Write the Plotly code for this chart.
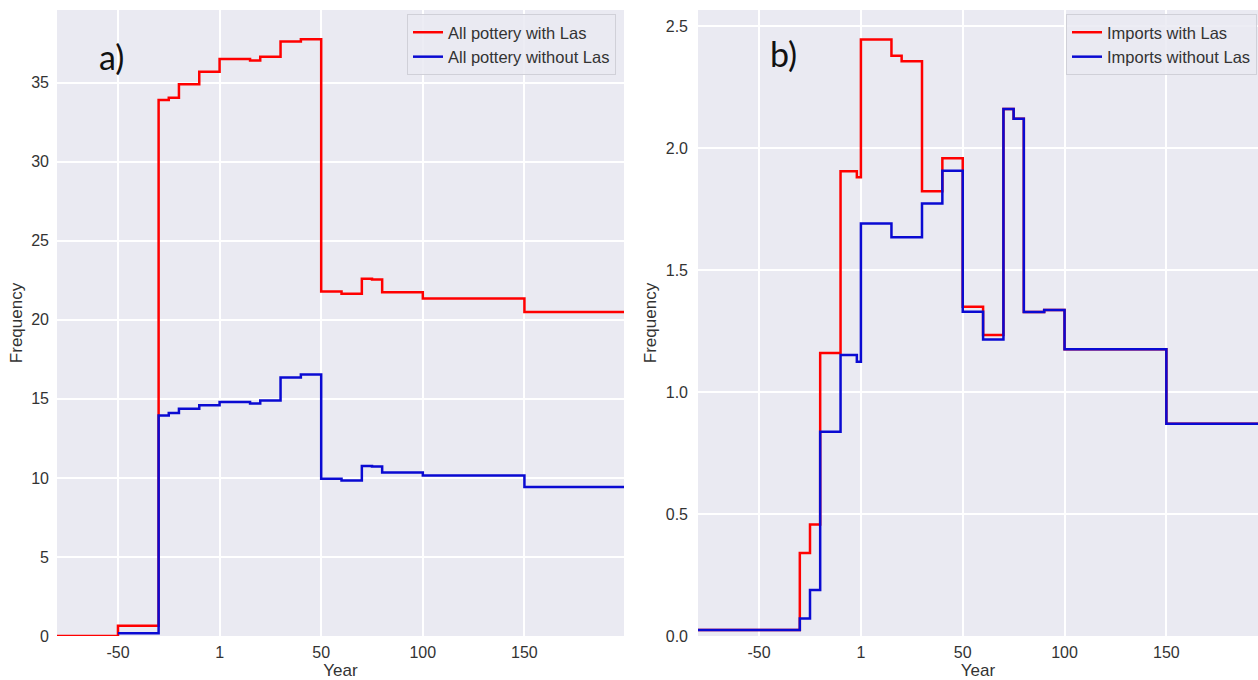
import plotly.graph_objects as go

# ---------------- data ----------------
# Panel a) All pottery (step breakpoints: value holds from year[i] to year[i+1])
years_a_with = [-80, -50, -30, -25, -20, -10, 0, 15, 20, 30, 40, 50, 60, 70, 75, 80, 100, 150, 199]
freq_a_with = [0.0, 0.65, 33.9, 34.05, 34.9, 35.7, 36.5, 36.4, 36.65, 37.6, 37.75,
               21.8, 21.65, 22.6, 22.55, 21.75, 21.35, 20.5, 20.5]

years_a_without = [-50, -30, -25, -20, -10, 0, 15, 20, 30, 40, 50, 60, 70, 75, 80, 100, 150, 199]
freq_a_without = [0.17, 13.95, 14.1, 14.37, 14.6, 14.8, 14.7, 14.9, 16.35, 16.55,
                  9.95, 9.83, 10.76, 10.72, 10.35, 10.15, 9.42, 9.42]

# Panel b) Imports
years_b_with = [-80, -30, -25, -20, -10, -2, 0, 15, 20, 30, 40, 50, 60, 70, 75, 80, 90, 100, 150, 195]
freq_b_with = [0.025, 0.34, 0.457, 1.16, 1.905, 1.88, 2.445, 2.378, 2.356, 1.823, 1.958,
               1.35, 1.234, 2.16, 2.12, 1.328, 1.336, 1.175, 0.87, 0.87]

years_b_without = [-80, -30, -25, -20, -10, -2, 0, 15, 30, 40, 50, 60, 70, 75, 80, 90, 100, 150, 195]
freq_b_without = [0.025, 0.072, 0.189, 0.837, 1.152, 1.124, 1.691, 1.634, 1.773, 1.907,
                  1.329, 1.215, 2.16, 2.12, 1.328, 1.336, 1.175, 0.87, 0.87]

x_tickvals = [-50, 0, 50, 100, 150]
x_ticktext = ["-50", "1", "50", "100", "150"]
ya_ticks = [0, 5, 10, 15, 20, 25, 30, 35]
yb_ticks = [0.0, 0.5, 1.0, 1.5, 2.0, 2.5]
yb_ticktext = ["0.0", "0.5", "1.0", "1.5", "2.0", "2.5"]

RED = "#ff0000"
BLUE = "#0a0ad2"
BG = "#eaeaf2"
TXT = "#333333"
FONT = "Liberation Sans, Arial, sans-serif"

fig = go.Figure()

fig.add_trace(go.Scatter(x=years_a_with, y=freq_a_with, mode="lines", line_shape="hv",
                         line=dict(color=RED, width=2.5), name="All pottery with Las",
                         xaxis="x", yaxis="y", legend="legend"))
fig.add_trace(go.Scatter(x=years_a_without, y=freq_a_without, mode="lines", line_shape="hv",
                         line=dict(color=BLUE, width=2.5), name="All pottery without Las",
                         xaxis="x", yaxis="y", legend="legend"))
fig.add_trace(go.Scatter(x=years_b_with, y=freq_b_with, mode="lines", line_shape="hv",
                         line=dict(color=RED, width=2.5), name="Imports with Las",
                         xaxis="x2", yaxis="y2", legend="legend2"))
fig.add_trace(go.Scatter(x=years_b_without, y=freq_b_without, mode="lines", line_shape="hv",
                         line=dict(color=BLUE, width=2.5), name="Imports without Las",
                         xaxis="x2", yaxis="y2", legend="legend2"))

W, H = 1258, 680
y_dom = [(H - 636) / H, (H - 10) / H]

axis_common = dict(showgrid=True, gridcolor="white", gridwidth=1.5, zeroline=False,
                   showline=False, ticks="", tickfont=dict(family=FONT, size=16, color=TXT))
title_font = dict(family=FONT, size=17, color=TXT)
legend_font = dict(family=FONT, size=16.5, color=TXT)

fig.update_layout(
    width=W, height=H,
    margin=dict(l=0, r=0, t=0, b=0),
    paper_bgcolor="white",
    plot_bgcolor=BG,
    font=dict(family=FONT, color=TXT),
    xaxis=dict(domain=[57 / W, 624 / W], range=[-80, 199], tickvals=x_tickvals, ticktext=x_ticktext,
               ticklabelstandoff=5,
               title=dict(text="Year", font=title_font, standoff=5),
               anchor="y", automargin=False, **axis_common),
    yaxis=dict(domain=y_dom, range=[0, 39.6], tickvals=ya_ticks, ticklabelstandoff=7,
               title=dict(text="Frequency", font=title_font, standoff=4),
               anchor="x", automargin=False, **axis_common),
    xaxis2=dict(domain=[698 / W, 1.0], range=[-80, 195], tickvals=x_tickvals, ticktext=x_ticktext,
                ticklabelstandoff=5,
                title=dict(text="Year", font=title_font, standoff=5),
                anchor="y2", automargin=False, **axis_common),
    yaxis2=dict(domain=y_dom, range=[0, 2.566], tickvals=yb_ticks, ticktext=yb_ticktext,
                ticklabelstandoff=9,
                title=dict(text="Frequency", font=title_font, standoff=4),
                anchor="x2", automargin=False, **axis_common),
    legend=dict(x=616 / W, y=1 - 14 / H, xanchor="right", yanchor="top",
                bgcolor="rgba(234,234,242,0.85)", bordercolor="#d0d0d8", borderwidth=1,
                font=legend_font, tracegroupgap=0, itemwidth=30),
    legend2=dict(x=1257 / W, y=1 - 14 / H, xanchor="right", yanchor="top",
                 bgcolor="rgba(234,234,242,0.85)", bordercolor="#d0d0d8", borderwidth=1,
                 font=legend_font, tracegroupgap=0, itemwidth=30),
    annotations=[
        dict(text="a)", x=112 / W, y=1 - 56 / H, xref="paper", yref="paper",
             xanchor="center", yanchor="middle",
             showarrow=False, font=dict(family="Lato, Noto Sans, sans-serif", size=34, color="#111111")),
        dict(text="b)", x=783 / W, y=1 - 54 / H, xref="paper", yref="paper",
             xanchor="center", yanchor="middle",
             showarrow=False, font=dict(family="Lato, Noto Sans, sans-serif", size=34, color="#111111")),
    ],
    showlegend=True,
)

fig.write_html("out.html", config={"displayModeBar": False},
               post_script="document.body.style.margin='0';document.body.style.overflow='hidden';")
